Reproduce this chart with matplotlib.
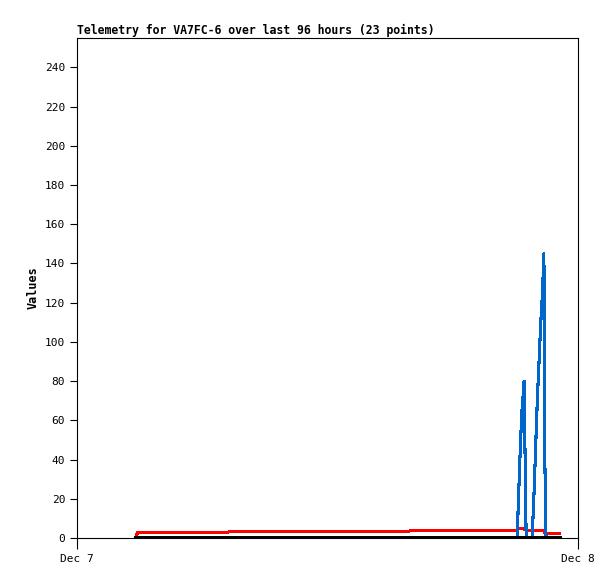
import numpy as np
import pandas as pd
from matplotlib import pyplot as plt
import matplotlib.dates as mdates

day = "2023-12-07 "
times = ["02:50", "02:55", "07:15", "07:20", "15:55", "16:00", "21:05",
         "21:10", "21:15", "21:19", "21:22", "21:25", "21:31", "21:48",
         "21:53", "21:58", "22:03", "22:08", "22:13", "22:18", "22:22",
         "22:25", "22:28", "23:08"]
red_vals = [1.0, 3.0, 3.0, 3.5, 3.5, 4.0, 4.0,
            5.0, 5.0, 5.0, 4.8, 4.5, 4.0, 4.0,
            4.0, 4.0, 4.0, 4.0, 4.0, 4.0, 4.0,
            2.5, 2.5, 2.5]
blue_vals = [0, 0, 0, 0, 0, 0, 0,
             25, 50, 65, 72, 80, 0, 0,
             20, 45, 70, 90, 110, 125, 145,
             36, 0, np.nan]
black_vals = [0] * len(times)

t = pd.to_datetime([day + s for s in times])

plt.rcParams['font.family'] = 'DejaVu Sans Mono'

fig = plt.figure(figsize=(6.15, 5.79), dpi=100)
ax = fig.add_axes([77/615, 41/579, 501/615, 500/579])

ax.plot(t, red_vals, color='#ff0000', lw=1.5, antialiased=False)
ax.plot(t, blue_vals, color='#0066cc', lw=1.5, antialiased=False)
ax.plot(t, black_vals, color='black', lw=1.5, antialiased=False)

ax.set_xlim(pd.Timestamp("2023-12-07"), pd.Timestamp("2023-12-08"))
ax.set_ylim(0, 255)
ax.set_yticks(range(0, 241, 20))
ax.set_xticks([pd.Timestamp("2023-12-07"), pd.Timestamp("2023-12-08")])
ax.xaxis.set_major_formatter(mdates.DateFormatter("%b %-d"))
ax.tick_params(axis='y', labelsize=8, length=5)
ax.tick_params(axis='x', labelsize=8, length=8)
ax.set_ylabel("Values", fontsize=8.5, fontweight='bold')
ax.set_title("Telemetry for VA7FC-6 over last 96 hours (23 points)",
             fontsize=8.3, fontweight='bold', loc='left', pad=3)

fig.savefig("out.png", dpi=100)
